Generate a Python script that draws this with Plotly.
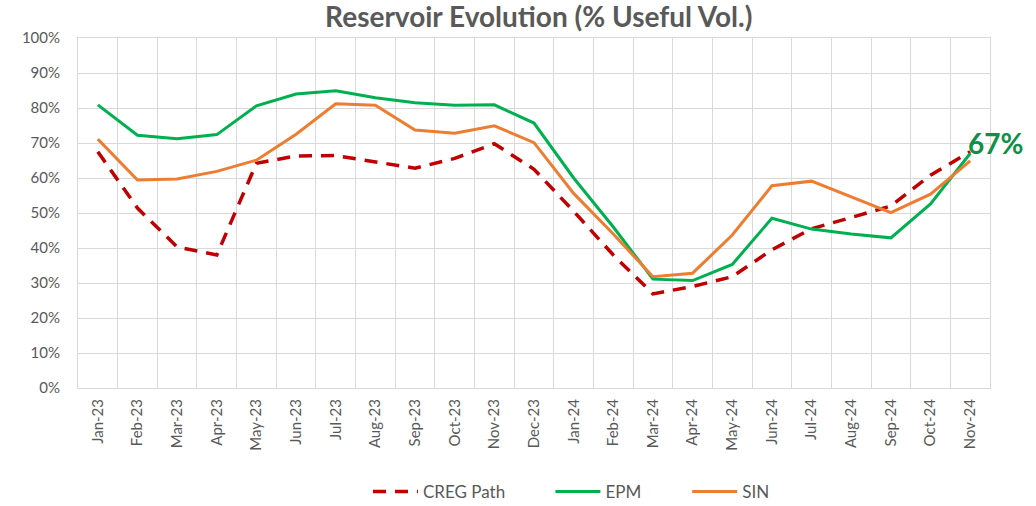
import plotly.graph_objects as go

months = ["Jan-23", "Feb-23", "Mar-23", "Apr-23", "May-23", "Jun-23", "Jul-23", "Aug-23",
          "Sep-23", "Oct-23", "Nov-23", "Dec-23", "Jan-24", "Feb-24", "Mar-24", "Apr-24",
          "May-24", "Jun-24", "Jul-24", "Aug-24", "Sep-24", "Oct-24", "Nov-24"]

creg = [67.5, 51.4, 40.3, 38.0, 64.2, 66.3, 66.4, 64.5, 62.8, 65.6, 69.8, 62.5,
        50.5, 38.0, 26.9, 29.0, 31.8, 39.5, 45.5, 48.7, 52.0, 60.8, 67.5]
epm = [80.9, 72.2, 71.2, 72.4, 80.6, 84.0, 84.9, 82.9, 81.5, 80.8, 80.9, 75.7,
       60.0, 46.0, 31.1, 30.7, 35.3, 48.5, 45.4, 44.0, 42.9, 52.6, 67.0]
sin = [71.1, 59.4, 59.7, 61.9, 65.1, 72.5, 81.2, 80.8, 73.7, 72.8, 74.9, 70.1,
       55.6, 44.0, 31.8, 32.8, 43.7, 57.8, 59.1, 54.7, 50.1, 55.4, 64.9]

gray = "#595959"
font = "Lato"

fig = go.Figure()
fig.add_trace(go.Scatter(x=months, y=creg, name="CREG Path", mode="lines", legend="legend",
                         line=dict(color="#C00000", width=3.5, dash="13px,9px")))
fig.add_trace(go.Scatter(x=months, y=epm, name="EPM", mode="lines", legend="legend2",
                         line=dict(color="#00B050", width=3)))
fig.add_trace(go.Scatter(x=months, y=sin, name="SIN", mode="lines", legend="legend3",
                         line=dict(color="#ED7D31", width=3)))

fig.add_annotation(x=months[-1], y=epm[-1], text="<b>67%</b>", showarrow=False,
                   xanchor="left", yanchor="middle", xshift=-4, yshift=11,
                   font=dict(family=font, size=28, color="#0E9146"))

leg_common = dict(orientation="h", xanchor="left", y=-0.297, yanchor="middle",
                  font=dict(family=font, size=17, color=gray), itemwidth=45,
                  bgcolor="rgba(0,0,0,0)")

fig.update_layout(
    width=1036, height=506,
    margin=dict(l=78, r=46, t=38, b=118, autoexpand=False),
    paper_bgcolor="white", plot_bgcolor="white",
    title=dict(text="<b>Reservoir Evolution (% Useful Vol.)</b>", x=0.520, xanchor="center",
               y=0.966, yanchor="middle",
               font=dict(family=font, size=28, color=gray)),
    font=dict(family=font, color=gray),
    showlegend=True,
    legend=dict(x=0.318, **leg_common),
    legend2=dict(x=0.518, **leg_common),
    legend3=dict(x=0.668, **leg_common),
)
fig.update_xaxes(type="category", tickson="boundaries", showgrid=True, gridcolor="#D9D9D9",
                 gridwidth=1, tickangle=-90, ticks="", range=[-0.5, 22.5], automargin=False,
                 ticklabelstandoff=4,
                 tickfont=dict(family=font, size=15, color=gray),
                 showline=True, linecolor="#D9D9D9", mirror=True)
fig.update_yaxes(range=[0, 100], dtick=10, ticksuffix="%", showgrid=True, automargin=False,
                 gridcolor="#D9D9D9", gridwidth=1, zeroline=False, ticklabelstandoff=14,
                 tickfont=dict(family=font, size=15, color=gray),
                 showline=True, linecolor="#D9D9D9", mirror=True)

fig.write_html("out.html", config={"displayModeBar": False},
               post_script="document.body.style.margin='0';")
